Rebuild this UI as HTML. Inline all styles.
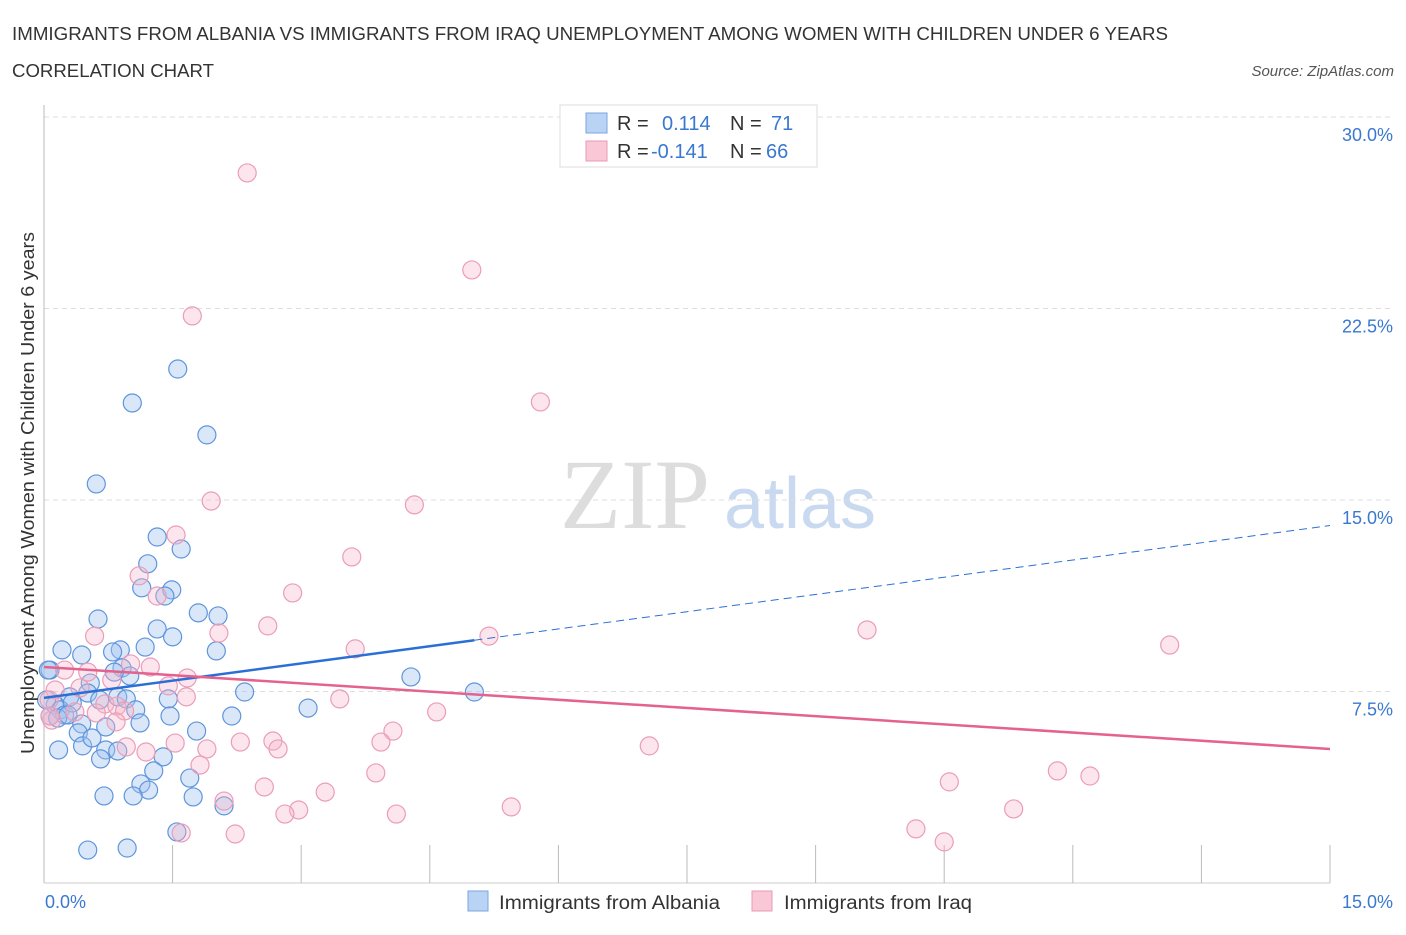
<!DOCTYPE html>
<html><head><meta charset="utf-8"><style>
body{margin:0;background:#fff;font-family:"Liberation Sans",sans-serif}
svg text{font-family:"Liberation Sans",sans-serif}
</style></head><body>
<svg id="chart" width="1406" height="930" xmlns="http://www.w3.org/2000/svg">
<text x="12" y="40" font-size="18" fill="#333" textLength="1156" lengthAdjust="spacingAndGlyphs">IMMIGRANTS FROM ALBANIA VS IMMIGRANTS FROM IRAQ UNEMPLOYMENT AMONG WOMEN WITH CHILDREN UNDER 6 YEARS</text>
<text x="12" y="77" font-size="18" fill="#333" textLength="202" lengthAdjust="spacingAndGlyphs">CORRELATION CHART</text>
<text x="1394" y="76" font-size="15" fill="#555" text-anchor="end" font-style="italic">Source: ZipAtlas.com</text>
<g>
<text x="635" y="528" font-size="100" fill="#ddd" text-anchor="middle" font-family="Liberation Serif" style="font-family:'Liberation Serif',serif">ZIP</text>
<text x="800" y="528" font-size="72" fill="#c9daf0" text-anchor="middle">atlas</text>
</g>
<g id="grid"></g>
<g id="axes"></g>
<g id="pts"></g>
<g id="trend"></g>
<text transform="translate(34,493) rotate(-90)" font-size="18" fill="#333" text-anchor="middle" textLength="522" lengthAdjust="spacingAndGlyphs">Unemployment Among Women with Children Under 6 years</text>
<g>
<rect x="560" y="105" width="257" height="62" fill="#fff" stroke="#ddd"/>
<rect x="586" y="113" width="21" height="20" fill="#b9d3f5" stroke="#7aa6e0"/>
<rect x="586" y="141" width="21" height="20" fill="#f9c7d6" stroke="#e89ab4"/>
<text x="617" y="130" font-size="20" fill="#333">R =</text>
<text x="662" y="130" font-size="20" fill="#3a78d0">0.114</text>
<text x="730" y="130" font-size="20" fill="#333">N =</text>
<text x="771" y="130" font-size="20" fill="#3a78d0">71</text>
<text x="617" y="158" font-size="20" fill="#333">R =</text>
<text x="651" y="158" font-size="20" fill="#3a78d0">-0.141</text>
<text x="730" y="158" font-size="20" fill="#333">N =</text>
<text x="766" y="158" font-size="20" fill="#3a78d0">66</text>
</g>
<g>
<rect x="468" y="891" width="20" height="20" fill="#b9d3f5" stroke="#7aa6e0"/>
<text x="499" y="909" font-size="19" fill="#333" textLength="221" lengthAdjust="spacingAndGlyphs">Immigrants from Albania</text>
<rect x="752" y="891" width="20" height="20" fill="#f9c7d6" stroke="#e89ab4"/>
<text x="784" y="909" font-size="19" fill="#333" textLength="188" lengthAdjust="spacingAndGlyphs">Immigrants from Iraq</text>
</g>
</svg>
<script>
const yTicks=[7.5,15,22.5,30];
const yTickLabels=["7.5%","15.0%","22.5%","30.0%"];
const xTickLabels=["0.0%","15.0%"];
const albaniaX=[1.56,1.03,1.90,0.61,1.32,1.60,1.21,1.14,1.49,1.41,0.63,1.80,2.03,1.32,1.50,0.21,0.44,1.18,0.89,0.80,2.01,0.07,0.91,1.00,0.54,0.82,4.28,5.02,2.34,0.30,0.51,0.65,0.86,0.96,1.45,1.07,0.13,0.19,0.24,0.33,0.07,0.16,0.28,0.44,0.72,0.40,1.78,2.19,3.08,1.47,0.17,0.45,0.72,0.86,0.66,1.39,1.28,1.70,1.13,1.22,0.70,1.04,1.74,2.10,1.55,0.51,0.97,0.03,0.05,0.56,1.12];
const albaniaY=[20.13,18.80,17.55,15.63,13.55,13.08,12.50,11.56,11.48,11.24,10.34,10.58,10.46,9.95,9.64,9.13,8.93,9.24,9.13,9.05,9.09,8.34,8.42,8.11,7.83,8.26,8.07,7.48,7.48,7.29,7.44,7.17,7.29,7.21,7.21,6.78,6.97,6.78,6.58,7.05,6.54,6.46,6.58,6.23,6.11,5.88,5.95,6.54,6.85,6.54,5.21,5.37,5.21,5.17,4.86,4.94,4.39,4.11,3.88,3.64,3.41,3.41,3.37,3.02,2.00,1.29,1.37,7.17,8.34,5.68,6.27];
const iraqX=[2.37,4.99,1.73,5.79,1.95,4.32,1.54,3.59,1.11,1.32,2.90,2.61,9.60,2.04,5.19,0.59,13.13,3.63,0.24,0.51,1.24,1.01,1.67,0.79,1.45,0.42,0.13,1.66,3.45,0.71,0.85,0.94,4.58,0.06,0.09,0.36,0.61,0.84,4.07,2.29,1.53,1.90,3.93,1.19,2.67,2.73,7.06,0.96,1.82,3.87,2.57,3.28,11.82,12.20,10.56,2.10,5.45,2.97,2.81,4.11,11.31,10.17,10.50,1.60,2.23,0.07];
const iraqY=[27.81,24.01,22.21,18.84,14.96,14.81,13.63,12.77,12.03,11.24,11.36,10.07,9.91,9.79,9.67,9.67,9.32,9.17,8.34,8.26,8.46,8.58,8.03,7.95,7.72,7.64,7.56,7.29,7.21,7.01,6.93,6.74,6.70,7.17,6.38,6.70,6.66,6.31,5.95,5.52,5.48,5.25,5.52,5.13,5.56,5.25,5.37,5.33,4.62,4.31,3.76,3.56,4.39,4.19,3.96,3.21,2.98,2.86,2.70,2.70,2.90,2.12,1.61,1.96,1.92,6.54];
const albaniaTrend=[7.25,14.0];
const albaniaSolidEnd=5.02;
const iraqTrend=[8.46,5.25];

const NS="http://www.w3.org/2000/svg";
const X0=44,X1=1330,Y0=883,Y30=117;
const sx=v=>X0+(X1-X0)*v/15;
const sy=v=>Y0-(Y0-Y30)*v/30;
function mk(tag,attrs,parent){const e=document.createElementNS(NS,tag);for(const k in attrs)e.setAttribute(k,attrs[k]);parent.appendChild(e);return e;}
const grid=document.getElementById('grid'),axes=document.getElementById('axes'),pts=document.getElementById('pts'),trend=document.getElementById('trend');
yTicks.forEach((t,i)=>{
  const l=mk('line',{x1:X0,x2:1394,y1:sy(t),y2:sy(t),stroke:'#ddd','stroke-dasharray':'5,4'},grid);
  
  
  const tx=mk('text',{x:1393,y:sy(t)+24,'font-size':18,fill:'#3a78d0','text-anchor':'end'},grid);
  tx.textContent=yTickLabels[i];
  
  
});
const ax=mk('line',{x1:X0,x2:X1,y1:Y0,y2:Y0,stroke:'#ccc'},axes);


const ay=mk('line',{x1:X0,x2:X0,y1:105,y2:Y0,stroke:'#bbb'},axes);


for(let i=0;i<=10;i++){
  const t=mk('line',{x1:sx(i*1.5),x2:sx(i*1.5),y1:845,y2:Y0,stroke:'#bbb'},axes);
  
  
}
xTickLabels.forEach((s,i)=>{
  const t=mk('text',{x:i?1393:45,y:908,'font-size':18,fill:'#3a78d0','text-anchor':i?'end':'start'},axes);
  t.textContent=s;
  
  
});
albaniaX.forEach((v,i)=>{
  const c=mk('circle',{cx:sx(v),cy:sy(albaniaY[i]),r:9,fill:'rgba(160,196,240,0.4)',stroke:'#5f95dc','stroke-width':1.2},pts);
  
  
});
iraqX.forEach((v,i)=>{
  const c=mk('circle',{cx:sx(v),cy:sy(iraqY[i]),r:9,fill:'rgba(245,180,200,0.35)',stroke:'#eb9db7','stroke-width':1.2},pts);
  
  
});
const by=x=>albaniaTrend[0]+(albaniaTrend[1]-albaniaTrend[0])*x/15;
const b1=mk('line',{x1:sx(0),y1:sy(by(0)),x2:sx(albaniaSolidEnd),y2:sy(by(albaniaSolidEnd)),stroke:'#2b6fd6','stroke-width':2.5},trend);


const b2=mk('line',{x1:sx(albaniaSolidEnd),y1:sy(by(albaniaSolidEnd)),x2:sx(15),y2:sy(by(15)),stroke:'#2b6fd6','stroke-width':1,'stroke-dasharray':'8,5'},trend);


const p1=mk('line',{x1:sx(0),y1:sy(iraqTrend[0]),x2:sx(15),y2:sy(iraqTrend[1]),stroke:'#e4628e','stroke-width':2.5},trend);


</script>
</body></html>
